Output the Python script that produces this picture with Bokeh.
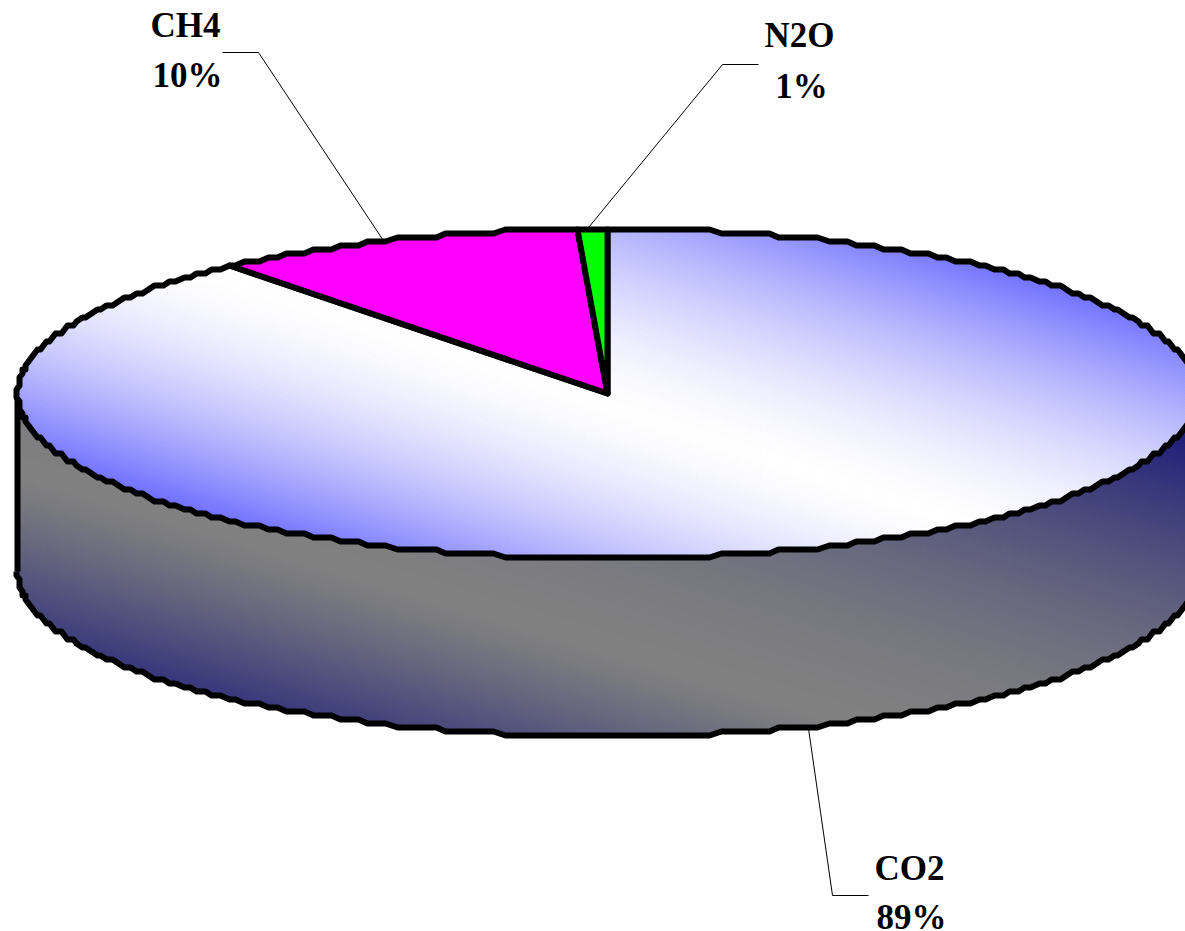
import numpy as np
from bokeh.plotting import figure
from bokeh.models import Range1d, ColumnDataSource
from bokeh.core.properties import value
from bokeh.embed import file_html
from bokeh.resources import INLINE

# data (percent shares, clockwise from 12 o'clock)
categories = ["CO2", "CH4", "N2O"]
shares = [88.95, 10.25, 0.80]
percent_labels = ["89%", "10%", "1%"]
slice_colors = [None, "#ff00ff", "#00ff00"]

# layout, in picture pixels
W, H = 1185, 931
CX, CY, RX, RY, DEPTH = 607.0, 393.0, 590.0, 165.0, 178.0
GX, GY = 3.0, 4.0
OUT = 6
label_xy = {"CO2": (909, 911, 868, 917), "CH4": (185, 187, 25, 75), "N2O": (799, 801, 35, 86)}
elbow = {"CO2": ((832, 895), (868, 895)), "CH4": ((258, 52), (222, 52)), "N2O": ((722, 64), (758, 64))}
anchor_dx = {"CO2": 0, "CH4": -10, "N2O": -5}


def rim(a, dy=0.0):
    a = np.radians(a)
    return (CX + np.round(RX * np.sin(a) / GX) * GX,
            CY + dy + np.round(-RY * np.cos(a) / GY) * GY)


def arc(a0, a1, dy=0.0):
    inner = np.arange(np.ceil(a0), a1, 1.0)
    aa = np.concatenate([[a0], inner[inner > a0], [a1]])
    return rim(aa, dy)


def clip(px, py, f, sign):
    ox, oy = [], []
    n = len(px)
    for i in range(n):
        x0, y0, x1, y1 = px[i], py[i], px[(i + 1) % n], py[(i + 1) % n]
        f0, f1 = f(x0, y0) * sign, f(x1, y1) * sign
        if f0 >= 0:
            ox.append(x0); oy.append(y0)
        if (f0 >= 0) != (f1 >= 0):
            t = f0 / (f0 - f1)
            ox.append(x0 + t * (x1 - x0)); oy.append(y0 + t * (y1 - y0))
    return ox, oy


def hexc(c):
    return "#%02x%02x%02x" % tuple(int(round(v)) for v in c)


def strips(px, py, y0, slope, up, dn, mid, end, step=3.0):
    xs, ys, cs = [], [], []
    for d in np.arange(-800, 800, step):
        f_lo = lambda x, y: y - (y0 + slope * (x - CX)) - d
        f_hi = lambda x, y: y - (y0 + slope * (x - CX)) - (d + step)
        ax, ay = clip(px, py, f_lo, 1)
        if len(ax) < 3:
            continue
        ax, ay = clip(ax, ay, f_hi, -1)
        if len(ax) < 3:
            continue
        c = d + step / 2
        s, g = up if c < 0 else dn
        t = min(1.0, abs(c) / s) ** g
        xs.append(ax); ys.append(ay)
        cs.append(hexc(np.array(mid) + t * (np.array(end) - np.array(mid))))
    return xs, ys, cs


p = figure(width=W, height=H, x_range=Range1d(0, W), y_range=Range1d(H, 0),
           output_backend="svg", toolbar_location=None, min_border=0,
           background_fill_color="white", border_fill_color="white", outline_line_color=None)
p.xaxis.visible = False
p.yaxis.visible = False
p.grid.visible = False

# side of the drum
lx, ly = arc(90, 270, DEPTH)
ux, uy = arc(270, 450)
sx = np.concatenate([lx, ux]); sy = np.concatenate([ly, uy])
xs, ys, cs = strips(list(sx), list(sy), 640 - 0.3 * (567 - CX), 0.3, (384.0, 1.8), (200.0, 1.2),
                    (128, 128, 128), (32, 32, 122))
p.patches(xs, ys, fill_color=cs, line_color=cs, line_width=1)
p.line(list(lx), list(ly), line_color="black", line_width=OUT, line_join="round")
p.line([CX - RX, CX - RX], [CY, CY + DEPTH], line_color="black", line_width=OUT)
p.line([CX + RX, CX + RX], [CY, CY + DEPTH], line_color="black", line_width=OUT)

# top face gradient
tx, ty = arc(0, 360)
xs, ys, cs = strips(list(tx), list(ty), 406.0, 0.33, (275.0, 1.6), (245.0, 1.6),
                    (255, 255, 255), (108, 108, 255))
p.patches(xs, ys, fill_color=cs, line_color=cs, line_width=1)

# slices
total = sum(shares)
edges = np.concatenate([[0], np.cumsum(shares)]) / total * 360.0
for i, cat in enumerate(categories):
    ax, ay = arc(edges[i], edges[i + 1])
    wx = [CX] + list(ax); wy = [CY] + list(ay)
    if slice_colors[i]:
        p.patch(wx, wy, fill_color=slice_colors[i], line_color="black", line_width=OUT, line_join="round")
    else:
        p.patch(wx, wy, fill_alpha=0, line_color="black", line_width=OUT, line_join="round")

# leader lines and labels
for i, cat in enumerate(categories):
    mid = np.radians((edges[i] + edges[i + 1]) / 2)
    mx = CX + RX * np.sin(mid) + anchor_dx[cat]
    my = CY - RY * np.cos(mid) + (DEPTH if np.cos(mid) < 0 else 0)
    (e1x, e1y), (e2x, e2y) = elbow[cat]
    p.line([mx, e1x, e2x], [my, e1y, e2y], line_color="black", line_width=1)
    x1, x2, y1, y2 = label_xy[cat]
    src = ColumnDataSource(dict(x=[x1, x2], y=[y1, y2], t=[cat, percent_labels[i]]))
    p.text("x", "y", "t", source=src, text_font=value("Liberation Serif"), text_font_style="bold",
           text_font_size="35px", text_align="center", text_baseline="alphabetic", text_color="black")

open("out.html", "w").write(file_html(p, INLINE))
